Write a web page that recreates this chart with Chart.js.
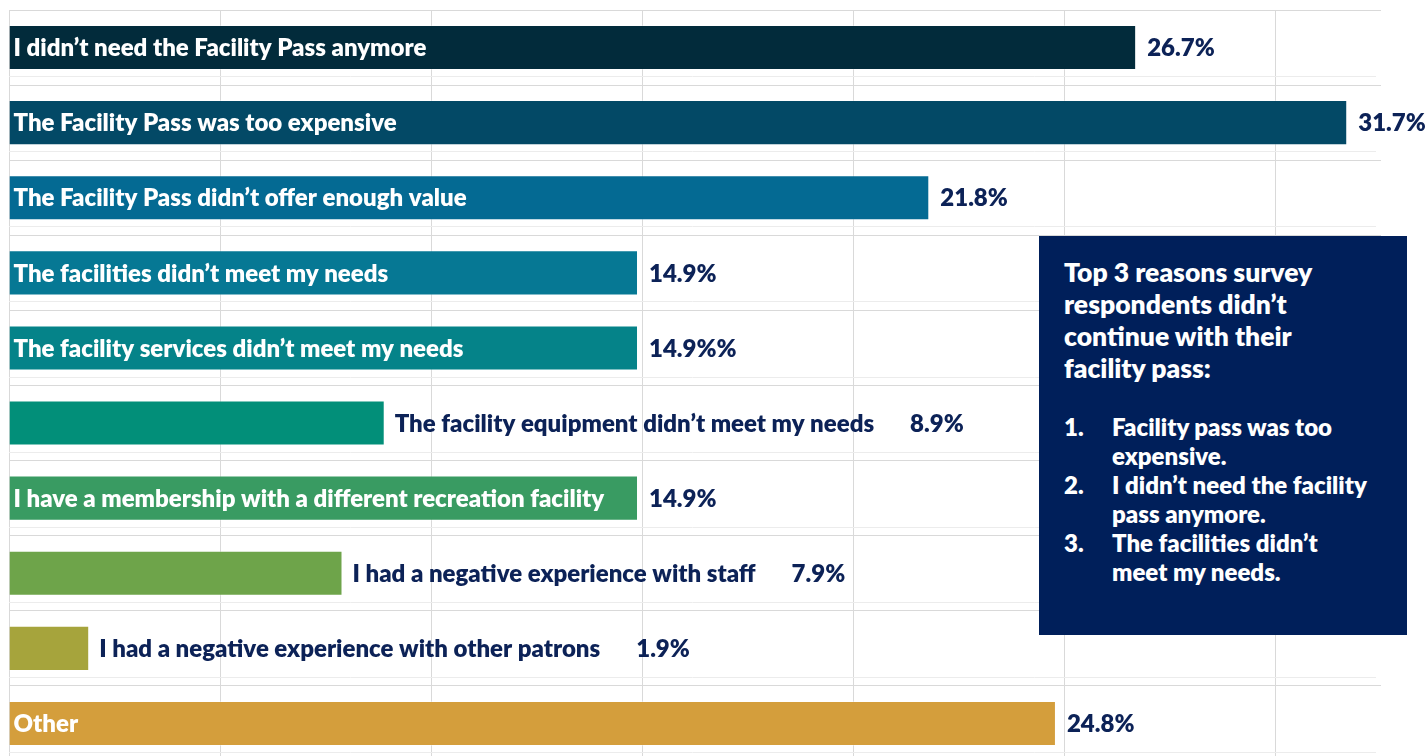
<!DOCTYPE html>
<html>
<head>
<meta charset="utf-8">
<script src="https://cdn.jsdelivr.net/npm/chart.js@4.4.1/dist/chart.umd.min.js"></script>
<style>
  html, body { margin: 0; padding: 0; background: #ffffff; overflow: hidden; }
  #wrap { position: relative; width: 1426px; height: 772px; }
  #box {
    position: absolute; left: 1039px; top: 236px; width: 368px; height: 399px;
    background: #001f5a; color: #ffffff; box-sizing: border-box;
    padding: 20px 10px 0 25px; font-family: Lato, sans-serif; font-weight: 800;
    white-space: nowrap;
  }
  #box .head { font-size: 26.5px; line-height: 32px; }
  #box ol { margin: 28px 0 0 0; padding: 0; list-style: none; font-size: 24px; line-height: 29px; }
  #box li { position: relative; padding-left: 48px; }
  #box li span { position: absolute; left: 0; top: 0; }
</style>
</head>
<body>
<div id="wrap">
  <canvas id="c" width="1426" height="772"></canvas>
  <div id="box">
    <div class="head">Top 3 reasons survey<br>respondents didn’t<br>continue with their<br>facility pass:</div>
    <ol>
      <li><span>1.</span>Facility pass was too<br>expensive.</li>
      <li><span>2.</span>I didn’t need the facility<br>pass anymore.</li>
      <li><span>3.</span>The facilities didn’t<br>meet my needs.</li>
    </ol>
  </div>
</div>
<script>
const categories = [
  "I didn’t need the Facility Pass anymore",
  "The Facility Pass was too expensive",
  "The Facility Pass didn’t offer enough value",
  "The facilities didn’t meet my needs",
  "The facility services didn’t meet my needs",
  "The facility equipment didn’t meet my needs",
  "I have a membership with a different recreation facility",
  "I had a negative experience with staff",
  "I had a negative experience with other patrons",
  "Other"
];
const values = [26.7, 31.7, 21.8, 14.9, 14.9, 8.9, 14.9, 7.9, 1.9, 24.8];
const valueLabels = ["26.7%", "31.7%", "21.8%", "14.9%", "14.9%%", "8.9%", "14.9%", "7.9%", "1.9%", "24.8%"];
const barColors = ["#022b3b", "#034966", "#046a93", "#067894", "#058389", "#028f79", "#399b62", "#6ea44a", "#a6a43c", "#d49e3c"];
const xTicks = [0, 5, 10, 15, 20, 25, 30];

const NAVY = "#0c2257";
const FONT = "800 24px Lato, sans-serif";

const barLabels = {
  id: "barLabels",
  afterDatasetsDraw(chart) {
    const ctx = chart.ctx;
    const meta = chart.getDatasetMeta(0);
    ctx.save();
    ctx.font = FONT;
    ctx.textBaseline = "middle";
    ctx.textAlign = "left";
    meta.data.forEach((bar, i) => {
      const label = chart.data.labels[i];
      const w = ctx.measureText(label).width;
      const barW = bar.x - bar.base;
      let valueX;
      if (w + 10 < barW) {
        ctx.fillStyle = "#ffffff";
        ctx.fillText(label, bar.base + 4, bar.y + 1);
        valueX = bar.x + 11;
      } else {
        ctx.fillStyle = NAVY;
        ctx.fillText(label, bar.x + 10, bar.y + 1);
        valueX = bar.x + 10 + w + 36;
      }
      ctx.fillStyle = NAVY;
      ctx.fillText(valueLabels[i], valueX, bar.y + 1);
    });
    ctx.restore();
  }
};

const faintRows = {
  id: "faintRows",
  beforeDatasetsDraw(chart) {
    const ctx = chart.ctx;
    const y = chart.scales.y;
    const area = chart.chartArea;
    const half = (y.getPixelForValue(1) - y.getPixelForValue(0)) / 2;
    ctx.save();
    ctx.strokeStyle = "#ececec";
    ctx.lineWidth = 1;
    for (let i = 0; i < categories.length; i++) {
      const py = Math.round(y.getPixelForValue(i) + half - 9) + 0.5;
      ctx.beginPath();
      ctx.moveTo(area.left, py);
      ctx.lineTo(area.right - 5, py);
      ctx.stroke();
    }
    ctx.restore();
  }
};

new Chart(document.getElementById("c"), {
  type: "bar",
  data: {
    labels: categories,
    datasets: [{
      data: values,
      backgroundColor: barColors,
      borderColor: "rgba(255,255,255,0.35)",
      borderWidth: 1,
      categoryPercentage: 1.0,
      barPercentage: 0.6
    }]
  },
  options: {
    indexAxis: "y",
    responsive: false,
    animation: false,
    layout: { padding: { left: 9, top: 10, right: 45, bottom: 11 } },
    plugins: { legend: { display: false }, tooltip: { enabled: false } },
    scales: {
      x: {
        min: 0, max: 32.5,
        afterBuildTicks: (s) => { s.ticks = xTicks.map(v => ({ value: v })); },
        ticks: { display: false },
        grid: { color: "#d9d9d9", lineWidth: 1, drawTicks: false },
        border: { display: false }
      },
      y: {
        ticks: { display: false },
        grid: { color: "#d9d9d9", lineWidth: 1, drawTicks: false, offset: true },
        border: { display: false }
      }
    }
  },
  plugins: [faintRows, barLabels]
});
</script>
</body>
</html>
